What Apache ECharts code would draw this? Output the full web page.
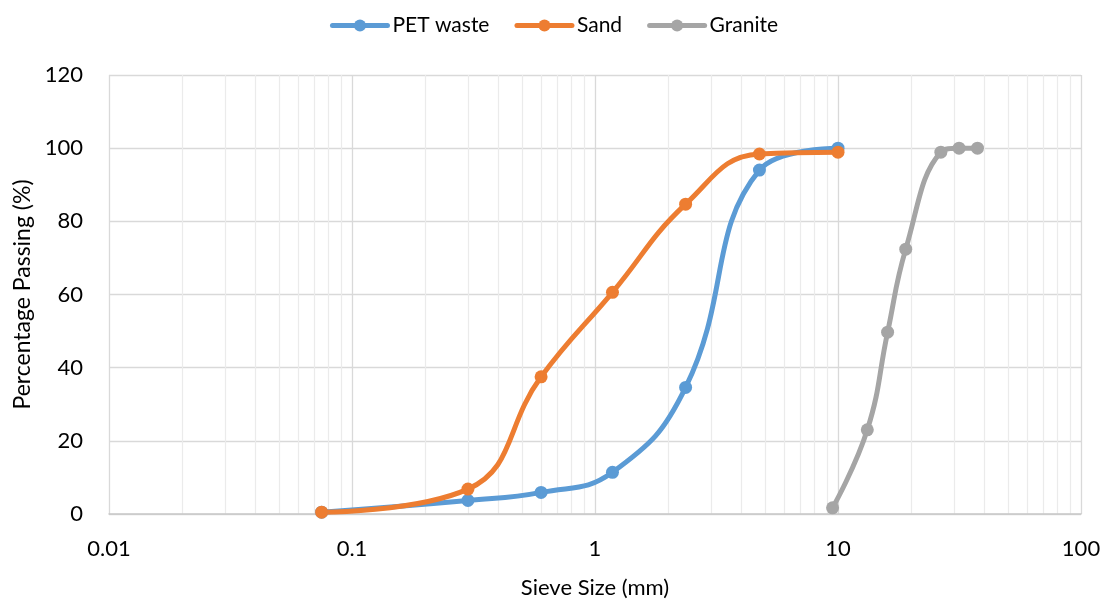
<!DOCTYPE html>
<html>
<head>
<meta charset="utf-8">
<script src="https://cdn.jsdelivr.net/npm/echarts@6/dist/echarts.min.js"></script>
<style>
html,body{margin:0;padding:0;background:#fff;}
#chart{width:1108px;height:603px;}
</style>
</head>
<body>
<div id="chart"></div>
<script>
// Sieve sizes (mm)
var petSizes = [0.075, 0.3, 0.6, 1.18, 2.36, 4.75, 10];
var petValues = [0.5, 3.7, 5.9, 11.4, 34.6, 94.0, 100];
var sandSizes = [0.075, 0.3, 0.6, 1.18, 2.36, 4.75, 10];
var sandValues = [0.5, 6.8, 37.5, 60.6, 84.7, 98.4, 98.9];
var graniteSizes = [9.5, 13.2, 16, 19, 26.5, 31.5, 37.5];
var graniteValues = [1.7, 23, 49.7, 72.4, 98.9, 100, 100];
var seriesNames = ['PET waste', 'Sand', 'Granite'];
// Minor log gridline positions
var minorGrid = [0.02,0.03,0.04,0.05,0.06,0.07,0.08,0.09,
                 0.2,0.3,0.4,0.5,0.6,0.7,0.8,0.9,
                 2,3,4,5,6,7,8,9,
                 20,30,40,50,60,70,80,90];

function pairs(xs, ys){ return xs.map(function(x,i){ return [x, ys[i]]; }); }

var FONT = 'Lato, "Noto Sans", sans-serif';
var colors = ['#5B9BD5', '#ED7D31', '#A5A5A5'];

function lineSeries(name, data, color){
  return {
    name: name, type: 'line', data: data, smooth: 0.45,
    symbol: 'circle', symbolSize: 13, showSymbol: true,
    lineStyle: {color: color, width: 5, cap: 'round', join: 'round'},
    itemStyle: {color: color},
    z: 3
  };
}

var chart = echarts.init(document.getElementById('chart'), null, {renderer: 'canvas'});
chart.setOption({
  animation: false,
  backgroundColor: '#fff',
  color: colors,
  textStyle: {fontFamily: FONT},
  legend: {
    data: seriesNames,
    top: 10, left: 'center',
    itemWidth: 55, itemHeight: 15, itemGap: 25,
    lineStyle: {width: 5, cap: 'round'},
    textStyle: {fontFamily: FONT, fontSize: 21, color: '#000'}
  },
  grid: {left: 109, right: 27, top: 75, bottom: 89, outerBoundsMode: 'none', containLabel: false},
  xAxis: {
    type: 'log', logBase: 10, min: 0.01, max: 100,
    name: 'Sieve Size (mm)', nameLocation: 'middle', nameGap: 63,
    nameTextStyle: {fontFamily: FONT, fontSize: 22, color: '#000'},
    axisLine: {show: true, lineStyle: {color: '#c8c8c8', width: 1.5}},
    axisTick: {show: false},
    axisLabel: {
      fontFamily: FONT, fontSize: 22, color: '#000', margin: 24,
      formatter: function(v){ return String(Number(v.toPrecision(6))); }
    },
    splitLine: {show: true, lineStyle: {color: '#d9d9d9', width: 1.3}}
  },
  yAxis: {
    type: 'value', min: 0, max: 120, interval: 20,
    name: 'Percentage Passing (%)', nameLocation: 'middle', nameGap: 75,
    nameTextStyle: {fontFamily: FONT, fontSize: 23, color: '#000'},
    axisLine: {show: false},
    axisTick: {show: false},
    axisLabel: {fontFamily: FONT, fontSize: 22, color: '#000', margin: 26},
    splitLine: {show: true, lineStyle: {color: '#d9d9d9', width: 1.3}}
  },
  series: [
    {
      name: 'minor', type: 'line', data: [], silent: true, z: 0,
      markLine: {
        silent: true, symbol: 'none', animation: false, z: 0,
        label: {show: false},
        lineStyle: {color: '#ebebeb', type: 'solid', width: 1.2},
        emphasis: {disabled: true},
        data: minorGrid.map(function(v){ return {xAxis: v}; })
      }
    },
    lineSeries(seriesNames[0], pairs(petSizes, petValues), colors[0]),
    lineSeries(seriesNames[1], pairs(sandSizes, sandValues), colors[1]),
    lineSeries(seriesNames[2], pairs(graniteSizes, graniteValues), colors[2])
  ]
});
</script>
</body>
</html>
